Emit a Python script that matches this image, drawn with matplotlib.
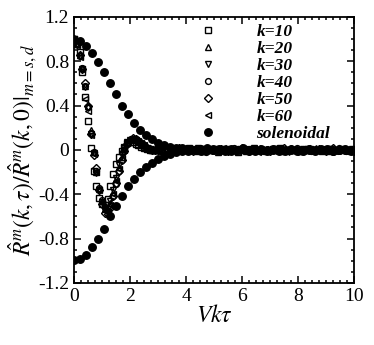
import numpy as np
import matplotlib
matplotlib.use("Agg")
from matplotlib import pyplot as plt
from matplotlib.ticker import MultipleLocator

plt.rcParams['font.family'] = 'Liberation Serif'
plt.rcParams['mathtext.fontset'] = 'stix'

# k-series: values at Vk*tau = 0, 0.1, ..., 3.0
x_k = np.round(np.arange(31) * 0.1, 2)
k10 = [1.0, 0.96, 0.88, 0.70, 0.48, 0.26, 0.02, -0.19, -0.33, -0.43, -0.49, -0.50, -0.44, -0.33,
       -0.22, -0.13, -0.06, -0.01, 0.03, 0.06, 0.075, 0.07, 0.055, 0.04, 0.025, 0.015, 0.005, 0.0,
       -0.005, 0.0, 0.0]
k20 = [1.0, 0.96, 0.86, 0.74, 0.58, 0.40, 0.18, -0.02, -0.20, -0.35, -0.46, -0.53, -0.54, -0.48,
       -0.38, -0.26, -0.15, -0.06, 0.02, 0.07, 0.10, 0.10, 0.09, 0.07, 0.05, 0.03, 0.02, 0.01, 0.0,
       0.0, 0.0]
k30 = [1.0, 0.96, 0.85, 0.73, 0.57, 0.38, 0.14, -0.03, -0.21, -0.36, -0.47, -0.53, -0.53, -0.46,
       -0.36, -0.25, -0.14, -0.05, 0.02, 0.07, 0.09, 0.10, 0.09, 0.07, 0.05, 0.03, 0.02, 0.01, 0.0,
       0.0, 0.0]
k40 = [1.0, 0.96, 0.85, 0.74, 0.58, 0.39, 0.15, -0.02, -0.19, -0.34, -0.45, -0.52, -0.55, -0.51,
       -0.42, -0.31, -0.19, -0.09, -0.01, 0.05, 0.09, 0.10, 0.10, 0.08, 0.06, 0.04, 0.02, 0.01, 0.0,
       0.0, 0.0]
k50 = [1.0, 0.96, 0.86, 0.73, 0.60, 0.40, 0.14, -0.05, -0.16, -0.36, -0.49, -0.57, -0.58, -0.52,
       -0.42, -0.30, -0.19, -0.09, -0.01, 0.05, 0.09, 0.11, 0.10, 0.08, 0.06, 0.04, 0.02, 0.01, 0.0,
       0.0, 0.0]
k60 = [1.0, 0.95, 0.84, 0.73, 0.46, 0.35, 0.13, -0.04, -0.20, -0.36, -0.48, -0.55, -0.56, -0.50,
       -0.40, -0.28, -0.17, -0.07, 0.0, 0.06, 0.09, 0.10, 0.09, 0.08, 0.06, 0.04, 0.02, 0.01, 0.0,
       0.0, 0.0]

# tails (hundredths) at Vk*tau = 3.1 + offset, step 0.25
tail10 = "1 0 -1 1 2 0 -1 0 1 1 0 -2 0 1 0 -1 1 2 0 0 -1 1 0 -1 1 0 1 0"
tail20 = "-1 1 0 2 0 -1 1 0 -2 1 1 0 -1 0 2 1 0 -1 0 1 -1 0 2 0 -1 1 0 -1"
tail30 = "0 -1 1 0 1 2 0 -1 0 1 -1 1 0 2 -1 0 1 0 -2 0 1 1 -1 0 1 -1 0 1"
tail40 = "1 1 -1 0 0 1 -2 1 0 -1 2 0 1 -1 0 0 1 -1 1 2 0 -1 0 1 0 2 -1 0"
tail50 = "-1 0 2 1 -1 0 1 0 1 -1 0 2 -1 1 0 -1 0 2 1 -1 0 0 1 -1 2 0 0 -1"
tail60 = "0 2 0 -1 1 -1 0 1 2 0 -1 1 0 -2 1 0 1 -1 0 1 2 -1 0 0 -1 1 1 0"

# solenoidal: Vk*tau = 0, 0.215, ...
sol_up = [0.99, 0.98, 0.94, 0.87, 0.79, 0.70, 0.60, 0.50, 0.40, 0.32, 0.24, 0.18, 0.135, 0.095,
          0.065, 0.045, 0.03, 0.02, 0.02, 0.01, 0.0, 0.01, 0.02, 0.0, 0.01, -0.01, 0.01, 0.0, 0.02,
          0.0, -0.01, 0.01, 0.0, 0.01, -0.01, 0.0, 0.01, 0.0, -0.01, 0.01, 0.0, 0.0, 0.01, -0.01,
          0.0, 0.01, 0.0]
sol_dn = [-0.99, -0.98, -0.95, -0.88, -0.80, -0.71, -0.60, -0.51, -0.415, -0.33, -0.26, -0.20,
          -0.15, -0.115, -0.08, -0.055, -0.035, -0.02, -0.01, -0.01, 0.0, -0.01, 0.0, 0.01, -0.01,
          0.0, -0.01, 0.0, 0.01, -0.01, 0.0, 0.0, -0.01, 0.0, 0.01, -0.01, 0.0, -0.01, 0.0, 0.0,
          -0.01, 0.01, 0.0, -0.01, 0.0, 0.0, -0.01]

series = [
    (k10, tail10, 's', 0.00, 'k=10'),
    (k20, tail20, '^', 0.04, 'k=20'),
    (k30, tail30, 'v', 0.08, 'k=30'),
    (k40, tail40, 'o', 0.12, 'k=40'),
    (k50, tail50, 'D', 0.16, 'k=50'),
    (k60, tail60, '<', 0.20, 'k=60'),
]

fig = plt.figure(figsize=(3.74, 3.45), dpi=100)
ax = fig.add_axes([0.198, 0.18, 0.749, 0.771])

for ys, tail, m, off, lab in series:
    t = np.array(tail.split(), dtype=float) / 100
    xt = 3.1 + off + np.arange(len(t)) * 0.25
    xx = np.concatenate([x_k, xt])
    yy = np.concatenate([ys, t])
    ms = 3.6 if m == 'D' else 4.2
    ax.plot(xx, yy, ls='none', marker=m, ms=ms, mfc='none', mec='black', mew=1.0, label=lab)

x_sol = np.arange(len(sol_up)) * 0.215
ax.plot(x_sol, sol_up, ls='none', marker='o', ms=5.4, color='black', label='solenoidal')
ax.plot(x_sol, sol_dn, ls='none', marker='o', ms=5.4, color='black')

ax.set_xlim(0, 10)
ax.set_ylim(-1.2, 1.2)
ax.xaxis.set_major_locator(MultipleLocator(2))
ax.xaxis.set_minor_locator(MultipleLocator(0.25))
ax.yaxis.set_major_locator(MultipleLocator(0.4))
ax.yaxis.set_minor_locator(MultipleLocator(0.1))
ax.yaxis.set_major_formatter(plt.FuncFormatter(lambda v, p: '0' if abs(v) < 1e-9 else '%.1f' % v))
ax.tick_params(which='both', direction='in', top=True, right=True, labelsize=14, width=1.1)
ax.tick_params(which='major', length=5)
ax.tick_params(which='minor', length=2.5)
for s in ax.spines.values():
    s.set_linewidth(1.3)

ax.set_xlabel(r'$Vk\tau$', fontsize=17, labelpad=0)
ax.set_ylabel(r'$\hat{R}^{m}(k,\tau)/\hat{R}^{m}(k,0)|_{m=s,d}$', fontsize=17, labelpad=-1)

leg = ax.legend(loc='upper left', bbox_to_anchor=(0.447, 0.974), frameon=False,
                handlelength=1.0, handletextpad=2.3, labelspacing=0.05,
                borderaxespad=0, borderpad=0,
                prop={'family': 'Liberation Serif', 'style': 'italic', 'weight': 'bold', 'size': 12.5})

fig.savefig('out.png', dpi=100)
